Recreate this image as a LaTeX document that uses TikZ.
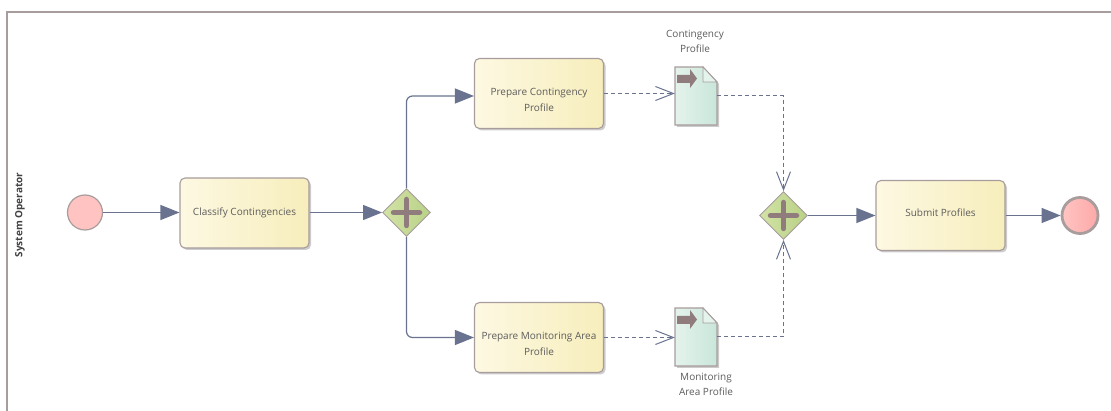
\documentclass[tikz,border=0pt]{standalone}
\usepackage{fontspec}
\setmainfont{Open Sans}
\usetikzlibrary{arrows.meta,shapes.geometric,shadows}
\definecolor{edgecol}{HTML}{69738F}
\definecolor{framecol}{HTML}{A89C9C}
\definecolor{textcol}{HTML}{5C5C5C}
\definecolor{pluscol}{HTML}{907C7C}
\definecolor{tasklight}{HTML}{FDF8E2}
\definecolor{taskdark}{HTML}{F7EEBC}
\definecolor{gatelight}{HTML}{D2E3A6}
\definecolor{gatedark}{HTML}{B9D186}
\definecolor{doclight}{HTML}{E4F3EC}
\definecolor{docdark}{HTML}{C9E6DA}
\definecolor{evlight}{HTML}{FFC4C2}
\definecolor{evdark}{HTML}{FDA9A8}
\tikzset{
    task/.style={shape=rectangle, rounded corners=5pt, draw=framecol, line width=1.1pt,
        left color=tasklight, right color=taskdark,
        minimum width=129pt, minimum height=70pt, inner sep=0pt, align=center,
        text=textcol, font=\fontsize{10}{16}\selectfont,
        drop shadow={shadow xshift=2pt, shadow yshift=-2pt, fill=black, opacity=0.2}},
    twoline/.style={text height=37pt},
    gateway/.style={shape=diamond, aspect=1, draw=framecol, line width=0.9pt,
        left color=gatelight, right color=gatedark,
        minimum width=48pt, minimum height=48pt, inner sep=0pt},
    plusbar/.style={draw=pluscol, line width=5.5pt, line cap=round},
    startev/.style={shape=circle, draw=framecol, line width=1.2pt, fill=evlight,
        minimum size=35pt, inner sep=0pt},
    endev/.style={shape=circle, draw=framecol, line width=2.8pt,
        left color=evlight, right color=evdark,
        minimum size=36pt, inner sep=0pt},
    docbox/.style={shape=rectangle, minimum width=42pt, minimum height=58pt, inner sep=0pt},
    docpage/.style={draw=framecol, line width=1.1pt, left color=doclight, right color=docdark,
        drop shadow={shadow xshift=2pt, shadow yshift=-2pt, fill=black, opacity=0.2}},
    docfold/.style={draw=framecol, line width=0.9pt, fill=doclight},
    docarrow/.style={fill=pluscol},
    doclabel/.style={align=center, inner sep=0pt, text=textcol, font=\fontsize{10}{15}\selectfont},
    flow/.style={draw=edgecol, line width=1.2pt, rounded corners=6pt,
        -{Triangle[length=19pt,width=15pt,fill=edgecol]}},
    assoc/.style={draw=edgecol, line width=1pt, dash pattern=on 4pt off 3pt,
        -{Straight Barb[length=18pt,width=14pt,line width=1pt]}},
}
\begin{document}
\begin{tikzpicture}[x=1pt, y=-1pt]
    \useasboundingbox (0, 0) rectangle (1111, 411);
    \draw [framecol, line width=1.8pt] (7, 411) -- (7, 12) -- (1111, 12);
    \node (lane) [rotate=90, inner sep=0pt, text=textcol!70!black, font=\fontsize{10}{12}\selectfont\bfseries] at (20, 215) {System Operator};

    \node (start) [startev] at (85, 212.5) {};
    \node (classify) [task] at (244.5, 213) {Classify Contingencies};
    \node (split) [gateway] at (406.5, 212.5) {};
    \node (prepc) [task, twoline] at (539, 93.5) {Prepare Contingency\\Profile};
    \node (prepm) [task, twoline] at (539, 337.5) {Prepare Monitoring Area\\Profile};
    \node (join) [gateway] at (783.5, 215.5) {};
    \node (submit) [task, text depth=6pt] at (940.5, 215.5) {Submit Profiles};
    \node (stop) [endev] at (1080, 215.5) {};

    \draw [plusbar] ([xshift=-13pt]split.center) -- ([xshift=13pt]split.center);
    \draw [plusbar] ([yshift=-13pt]split.center) -- ([yshift=13pt]split.center);
    \draw [plusbar] ([xshift=-13pt]join.center) -- ([xshift=13pt]join.center);
    \draw [plusbar] ([yshift=-13pt]join.center) -- ([yshift=13pt]join.center);

    \node (docc) [docbox] at (696, 96) {};
    \node (docm) [docbox] at (696, 337) {};
    \node (docclabel) [doclabel] at (695, 41) {Contingency\\Profile};
    \node (docmlabel) [doclabel] at (706, 384) {Monitoring\\Area Profile};

    \pgfmathsetmacro{\xd}{675};
    \pgfmathsetmacro{\yd}{67};
    \draw [docpage] (\xd, \yd) -- (\xd+28, \yd) -- (\xd+42, \yd+15) -- (\xd+42, \yd+58) -- (\xd, \yd+58) -- cycle;
    \draw [docfold] (\xd+28, \yd) -- (\xd+42, \yd+15) -- (\xd+28, \yd+15) -- cycle;
    \fill [docarrow] (\xd+2, \yd+8) -- (\xd+15, \yd+8) -- (\xd+15, \yd+2) -- (\xd+22, \yd+11.5) -- (\xd+15, \yd+21) -- (\xd+15, \yd+16) -- (\xd+2, \yd+16) -- cycle;

    \pgfmathsetmacro{\yd}{308};
    \draw [docpage] (\xd, \yd) -- (\xd+28, \yd) -- (\xd+42, \yd+15) -- (\xd+42, \yd+58) -- (\xd, \yd+58) -- cycle;
    \draw [docfold] (\xd+28, \yd) -- (\xd+42, \yd+15) -- (\xd+28, \yd+15) -- cycle;
    \fill [docarrow] (\xd+2, \yd+8) -- (\xd+15, \yd+8) -- (\xd+15, \yd+2) -- (\xd+22, \yd+11.5) -- (\xd+15, \yd+21) -- (\xd+15, \yd+16) -- (\xd+2, \yd+16) -- cycle;

    \draw [flow] (start) -- (start -| classify.west);
    \draw [flow] (classify.east |- split) -- (split);
    \draw [flow] (split.north) |- ([yshift=-2.5pt]prepc.west);
    \draw [flow] (split.south) |- (prepm.west);
    \draw [flow] (join) -- (submit.west |- join);
    \draw [flow] (submit.east) -- (stop);

    \draw [assoc] (prepc.east) -- (prepc.east -| docc.west);
    \draw [assoc] (prepm.east) -- (prepm.east -| docm.west);
    \draw [assoc] (docc.east) -| (join.north);
    \draw [assoc] (docm.east) -| (join.south);

\end{tikzpicture}
\end{document}
